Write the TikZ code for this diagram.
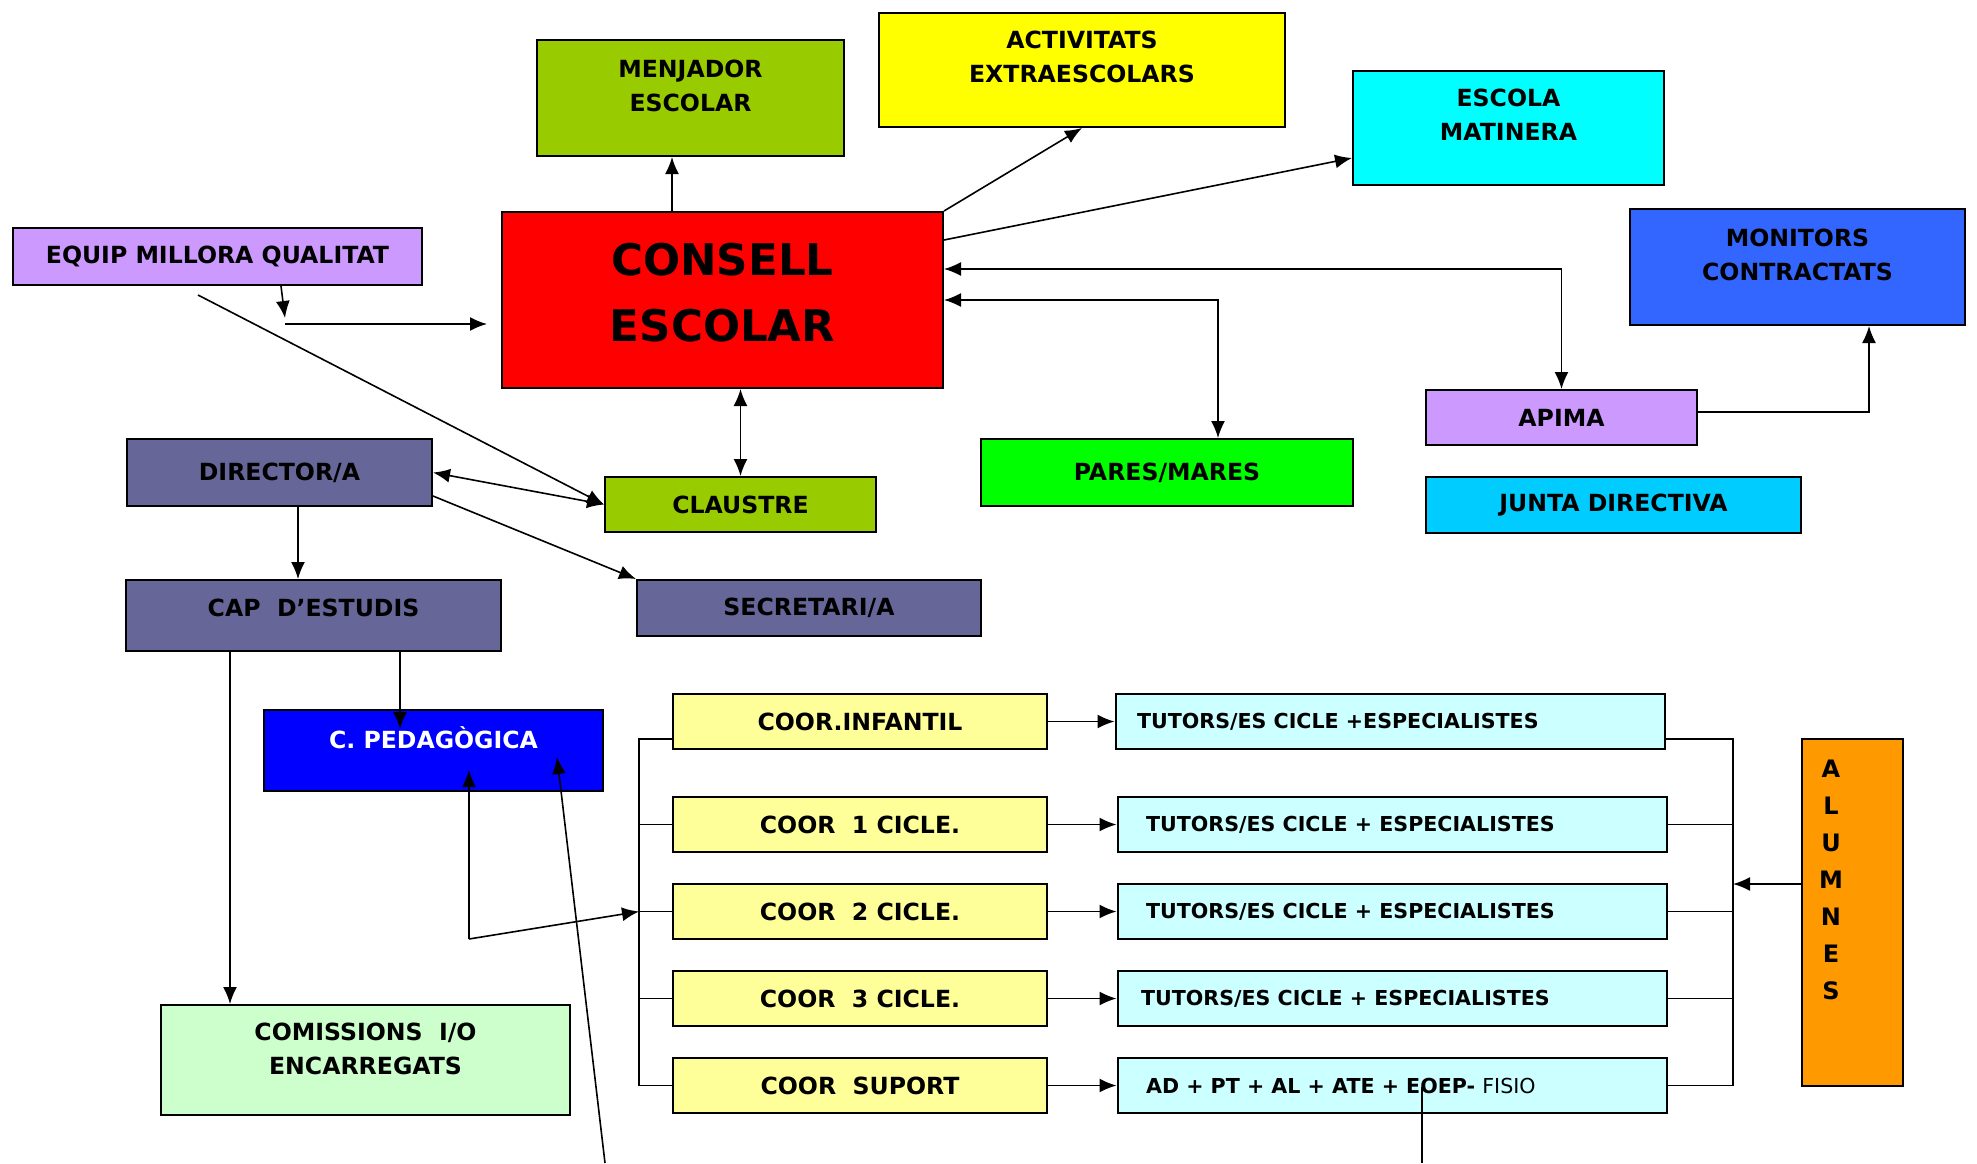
\documentclass[tikz,border=0pt]{standalone}
\usepackage{fontspec}
\setmainfont{DejaVu Sans}
\usetikzlibrary{positioning, arrows.meta, calc}
\definecolor{menjcol}{RGB}{153,204,0}
\definecolor{actcol}{RGB}{255,255,0}
\definecolor{esccol}{RGB}{0,255,255}
\definecolor{monicol}{RGB}{51,102,255}
\definecolor{lila}{RGB}{204,153,255}
\definecolor{conscol}{RGB}{255,0,0}
\definecolor{direcol}{RGB}{102,102,153}
\definecolor{parescol}{RGB}{0,255,0}
\definecolor{juntacol}{RGB}{0,204,255}
\definecolor{cpedcol}{RGB}{0,0,255}
\definecolor{comiscol}{RGB}{204,255,204}
\definecolor{coorcol}{RGB}{255,255,153}
\definecolor{tutcol}{RGB}{204,255,255}
\definecolor{alumcol}{RGB}{255,153,0}

\begin{document}
\begin{tikzpicture}[
    x=0.5pt, y=-0.5pt,
    box/.style={draw, rectangle, line width=1pt, inner sep=0pt},
    lbl/.style={font=\fontsize{11.8}{17}\selectfont\bfseries, align=center},
    small/.style={font=\fontsize{10.3}{12}\selectfont\bfseries},
    big/.style={font=\fontsize{21.8}{33}\selectfont\bfseries, align=center},
    arr/.style={-{Latex[length=8.5pt, width=7pt]}, line width=0.8pt},
    arrs/.style={{Latex[length=8.5pt, width=7pt]}-{Latex[length=8.5pt, width=7pt]}, line width=0.8pt},
    bus/.style={line width=0.9pt}
]
\useasboundingbox (0,0) rectangle (1977,1163);

% upper part
\node[box, fill=menjcol, minimum width=153.5pt, minimum height=58pt] (menj) at (690.5,98) {};
\node[lbl] (menj-t) at ($(menj)+(0,-12)$) {MENJADOR\\ESCOLAR};
\node[box, fill=actcol, minimum width=203pt, minimum height=57pt] (act) at (1082,70) {};
\node[lbl] (act-t) at ($(act)+(0,-13)$) {ACTIVITATS\\EXTRAESCOLARS};
\node[box, fill=esccol, minimum width=155.5pt, minimum height=57pt] (esc) at (1508.5,128) {};
\node[lbl] (esc-t) at ($(esc)+(0,-13)$) {ESCOLA\\MATINERA};
\node[box, fill=monicol, minimum width=167.5pt, minimum height=58pt] (moni) at (1797.5,267) {};
\node[lbl] (moni-t) at ($(moni)+(0,-12)$) {MONITORS\\CONTRACTATS};
\node[box, fill=lila, minimum width=204.5pt, minimum height=28.5pt, lbl] (equip) at (217.5,256.5) {EQUIP MILLORA QUALITAT};
\node[box, fill=conscol, minimum width=220.5pt, minimum height=88pt] (cons) at (722.5,300) {};
\node[big] (cons-t) at ($(cons)+(0,-7.5)$) {CONSELL\\ESCOLAR};

\node[box, fill=direcol, minimum width=152.5pt, minimum height=33.5pt, lbl] (dir) at (279.5,472.5) {DIRECTOR/A};
\node[box, fill=menjcol, minimum width=135.5pt, minimum height=27.5pt, lbl] (claus) at (740.5,504.5) {CLAUSTRE};
\node[box, fill=parescol, minimum width=186pt, minimum height=33.5pt, lbl] (pares) at (1167,472.5) {PARES/MARES};
\node[box, fill=lila, minimum width=135.5pt, minimum height=27.5pt, lbl] (apima) at (1561.5,417.5) {APIMA};
\node[box, fill=juntacol, minimum width=187.5pt, minimum height=28pt, lbl] (junta) at (1613.5,505) {JUNTA DIRECTIVA};

\node[box, fill=direcol, minimum width=187.5pt, minimum height=35.5pt] (cap) at (313.5,615.5) {};
\node[lbl] (cap-t) at ($(cap)+(0,-7.5)$) {CAP~~D'ESTUDIS};
\node[box, fill=direcol, minimum width=172pt, minimum height=28pt, lbl] (secr) at (809,608) {SECRETARI/A};
\node[box, fill=cpedcol, minimum width=169.5pt, minimum height=40.5pt] (cped) at (433.5,750.5) {};
\node[lbl, text=white] (cped-t) at ($(cped)+(0,-12.5)$) {C. PEDAGÒGICA};
\node[box, fill=comiscol, minimum width=204.5pt, minimum height=55pt] (comis) at (365.5,1060) {};
\node[lbl] (comis-t) at ($(comis)+(0,-11)$) {COMISSIONS~~I/O\\ENCARREGATS};

% coordinators and tutors
\node[box, fill=coorcol, minimum width=187pt, minimum height=27.5pt, lbl] (coor0) at (860,721.5) {COOR.INFANTIL};
\node[box, fill=coorcol, minimum width=187pt, minimum height=27.5pt, lbl] (coor1) at (860,824.5) {COOR~~1 CICLE.};
\node[box, fill=coorcol, minimum width=187pt, minimum height=27.5pt, lbl] (coor2) at (860,911.5) {COOR~~2 CICLE.};
\node[box, fill=coorcol, minimum width=187pt, minimum height=27.5pt, lbl] (coor3) at (860,998.5) {COOR~~3 CICLE.};
\node[box, fill=coorcol, minimum width=187pt, minimum height=27.5pt, lbl] (coor4) at (860,1085.5) {COOR~~SUPORT};

\node[box, fill=tutcol, minimum width=274.5pt, minimum height=27.5pt] (tut0) at (1390,721.5) {};
\node[small, anchor=west] (tut0-t) at (1130,721.5) {TUTORS/ES CICLE +ESPECIALISTES};
\node[box, fill=tutcol, minimum width=274.5pt, minimum height=27.5pt] (tut1) at (1392,824.5) {};
\node[small, anchor=west] (tut1-t) at (1139,824.5) {TUTORS/ES CICLE + ESPECIALISTES};
\node[box, fill=tutcol, minimum width=274.5pt, minimum height=27.5pt] (tut2) at (1392,911.5) {};
\node[small, anchor=west] (tut2-t) at (1139,911.5) {TUTORS/ES CICLE + ESPECIALISTES};
\node[box, fill=tutcol, minimum width=274.5pt, minimum height=27.5pt] (tut3) at (1392,998.5) {};
\node[small, anchor=west] (tut3-t) at (1134,998.5) {TUTORS/ES CICLE + ESPECIALISTES};
\node[box, fill=tutcol, minimum width=274.5pt, minimum height=27.5pt] (tut4) at (1392,1085.5) {};
\node[small, anchor=west] (tut4-t) at (1139,1085.5) {AD + PT + AL + ATE + EOEP- {\mdseries FISIO}};

\node[box, fill=alumcol, minimum width=50.5pt, minimum height=173.5pt] (alum) at (1852.5,912.5) {};
\node[lbl, font=\fontsize{12}{18.5}\selectfont\bfseries] (alum-t) at (1831,880) {A\\L\\U\\M\\N\\E\\S};

% helper points
\coordinate (m1) at (672,0);
\coordinate (c-esc) at (943,240);
\coordinate (e-esc) at (1353,158);
\coordinate (k-apima) at (1561.5,269);
\coordinate (k-pares) at (1218,300);
\coordinate (k-moni) at (1869,412);
\coordinate (q1) at (285,318);
\coordinate (q2) at (285,324);
\coordinate (q3) at (198,295);
\coordinate (d1) at (298,0);
\coordinate (c1) at (230,0);
\coordinate (c2) at (400,729);
\coordinate (p1) at (469,939);
\coordinate (p2) at (469,770);
\coordinate (p3) at (605,1163);
\coordinate (p4) at (557,757);
\coordinate (lb) at (639,739);
\coordinate (rb) at (1733,739);
\coordinate (al) at (1802,884);
\coordinate (ad1) at (1422,1087);
\coordinate (ad2) at (1422,1163);

% consell escolar
\draw[arr] (cons.north -| m1) -- (menj.south -| m1);
\draw[arr] (cons.north east) -- (act.south);
\draw[arr] (cons.east |- c-esc) -- (esc.west |- e-esc);
\draw[arrs] (cons.east |- k-apima) -- (k-apima) -- (apima.north);
\draw[arrs] (cons.east) -- (k-pares) -- (pares.north -| k-pares);
\draw[arr] (apima.east |- k-moni) -- (k-moni) -- (moni.south -| k-moni);
\draw[arr] ($(equip.south)+(63.5,0)$) -- (q1);
\draw[arr] (q2) -- ($(cons.west |- q2)+(-14,0)$);
\draw[arr] (q3) -- (claus.west);
\draw[arrs] (claus.north) -- (cons.south -| claus.north);

% direccio
\draw[arrs] (dir.east) -- (claus.west);
\draw[arr] ($(dir.east)+(0,23.5)$) -- (secr.north west);
\draw[arr] (dir.south -| d1) -- (cap.north -| d1);
\draw[arr] (cap.south -| c1) -- (comis.north -| c1);
\draw[arr] (cap.south -| c2) -- (c2);
\draw[arr] (p1) -- (p2);
\draw[arr] (p1) -- (lb |- coor2.west);
\draw[arr] (p3) -- (p4);

% cicles
\draw[bus] (coor0.west |- lb) -- (lb) -- (lb |- coor4.west) -- (coor4.west);
\draw[bus] (lb |- coor1.west) -- (coor1.west);
\draw[bus] (lb |- coor2.west) -- (coor2.west);
\draw[bus] (lb |- coor3.west) -- (coor3.west);
\draw[arr] (coor0.east) -- (tut0.west);
\draw[arr] (coor1.east) -- (tut1.west);
\draw[arr] (coor2.east) -- (tut2.west);
\draw[arr] (coor3.east) -- (tut3.west);
\draw[arr] (coor4.east) -- (tut4.west);
\draw[bus] (tut0.east |- rb) -- (rb) -- (rb |- tut4.east) -- (tut4.east);
\draw[bus] (rb |- tut1.east) -- (tut1.east);
\draw[bus] (rb |- tut2.east) -- (tut2.east);
\draw[bus] (rb |- tut3.east) -- (tut3.east);
\draw[arr] (alum.west |- al) -- (rb |- al);
\draw[bus] (ad1) -- (ad2);

\end{tikzpicture}
\end{document}
